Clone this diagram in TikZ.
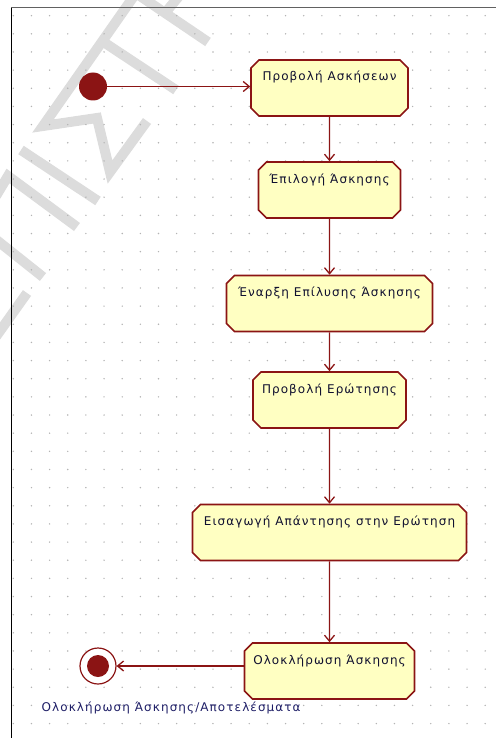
\documentclass[tikz,border=0pt]{standalone}
\usepackage{fontspec}
\setmainfont{DejaVu Sans}[LetterSpace=9]
\usetikzlibrary{arrows.meta,shapes.misc}

\definecolor{statered}{HTML}{8B1414}
\definecolor{statefill}{HTML}{FFFFC2}
\definecolor{gridgray}{HTML}{B4B4B4}
\definecolor{markgray}{HTML}{DCDCDC}
\definecolor{inkdark}{HTML}{101030}
\definecolor{inkblue}{HTML}{1E1E66}

\begin{document}
\begin{tikzpicture}[x=1pt,y=-1pt,
  statebox/.style={chamfered rectangle, chamfered rectangle sep=4pt,
    draw=statered, line width=1.6pt, fill=statefill,
    inner sep=0pt, minimum height=56pt,
    text height=9pt, text depth=23pt,
    font=\fontsize{12}{14}\selectfont, text=inkdark},
  flow/.style={draw=statered, line width=1.3pt,
    -{Straight Barb[length=6pt,width=10pt]}},
  wmark/.style={draw=markgray, line width=10pt, line join=miter}]

  \useasboundingbox (0,0) rectangle (496,738);

  % faint diagonal watermark strokes
  \draw[wmark] (134,-4) -- (43,126) -- (97,118) -- (110,172) -- (147,121);
  \draw[wmark] (105,43) -- (176,90);
  \draw[wmark] (140,-4) -- (208,42);
  \draw[wmark] (165,13) -- (180,-5);
  \draw[wmark] (21,150) -- (98,201);
  \draw[wmark] (-4,196) -- (8,176) -- (77,227);
  \draw[wmark] (-6,238) -- (43,277);
  \draw[wmark] (27,293) -- (-5,338);

  % dotted drawing grid
  \foreach \i in {0,...,26}
    \foreach \j in {0,...,39}
      \fill[gridgray] ({13.3+18.15*\i},{15.7+18.15*\j}) circle (0.8);

  % sheet border
  \draw[draw=black!62, line width=1pt] (11,8) -- (496,8);
  \draw[draw=black, line width=1.3pt] (11.5,8) -- (11.5,738);

  % states
  \node[statebox, minimum width=157pt] (p1) at (329.5,88)    {Προβολή Ασκήσεων};
  \node[statebox, minimum width=142pt] (p2) at (329.5,190)   {Έπιλογή Άσκησης};
  \node[statebox, minimum width=206pt] (p3) at (329.5,303.5) {Έναρξη Επίλυσης Άσκησης};
  \node[statebox, minimum width=153pt] (p4) at (329.5,400)   {Προβολή Ερώτησης};
  \node[statebox, minimum width=274pt] (p5) at (329.5,532.5) {Εισαγωγή Απάντησης στην Ερώτηση};
  \node[statebox, minimum width=170pt] (p6) at (329.5,671)   {Ολοκλήρωση Άσκησης};

  % initial and final pseudo-states
  \node[circle, fill=statered, minimum size=28pt, inner sep=0pt] (init) at (93,86.5) {};
  \node[circle, draw=statered, line width=1.2pt, fill=white,
        minimum size=36pt, inner sep=0pt] (fin) at (98,666) {};
  \node[circle, fill=statered, minimum size=22pt, inner sep=0pt] (fincore) at (fin) {};
  \node[anchor=base west, inner sep=0pt, font=\fontsize{12}{14}\selectfont,
        text=inkblue] (finlabel) at (41.5,711) {Ολοκλήρωση Άσκησης/Αποτελέσματα};

  % transitions
  \draw[flow] (init) -- (init -| p1.west);
  \draw[flow] (p1) -- (p2);
  \draw[flow] (p2) -- (p3);
  \draw[flow] (p3) -- (p4);
  \draw[flow] (p4) -- (p5);
  \draw[flow] (p5) -- (p6);
  \draw[flow] (fin -| p6.west) -- (fin);
\end{tikzpicture}
\end{document}
